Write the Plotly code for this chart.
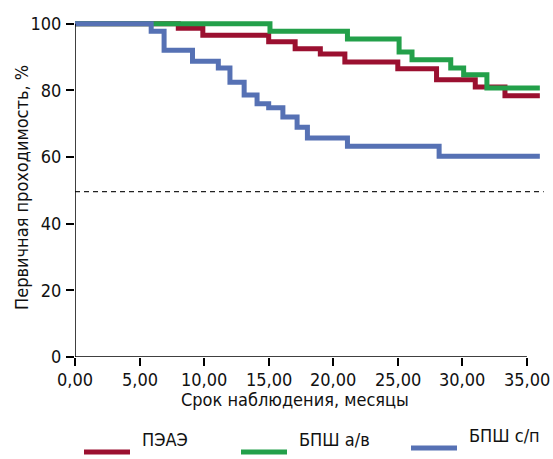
import plotly.graph_objects as go

# Data (step functions: time in months, primary patency in %)
peae_t = [0, 8.0, 9.9, 15.0, 17.05, 19.0, 20.9, 25.0, 28.0, 31.0, 33.3, 36.0]
peae_s = [100, 98.6, 96.5, 94.6, 92.5, 90.9, 88.5, 86.5, 83.2, 81.0, 78.4, 78.4]

bpsh_av_t = [0, 15.1, 21.1, 25.1, 26.1, 29.1, 30.1, 31.9, 36.0]
bpsh_av_s = [100, 97.7, 95.4, 91.5, 89.2, 86.7, 84.7, 80.7, 80.7]

bpsh_sp_t = [0, 5.9, 6.9, 9.1, 11.1, 12.0, 13.1, 14.1, 15.0, 16.1, 17.2, 18.0, 21.1, 28.2, 36.0]
bpsh_sp_s = [100, 97.7, 92.0, 88.7, 86.7, 82.4, 78.6, 76.0, 74.8, 72.0, 68.9, 65.7, 63.2, 60.2, 60.2]

series_names = ["ПЭАЭ", "БПШ а/в", "БПШ с/п"]
series_colors = ["#9b1030", "#23a04a", "#5671b4"]
threshold = 49.6

x_ticks = [0, 5, 10, 15, 20, 25, 30, 35]
x_tick_labels = ["0,00", "5,00", "10,00", "15,00", "20,00", "25,00", "30,00", "35,00"]
y_ticks = [0, 20, 40, 60, 80, 100]

FONT = "Liberation Sans Narrow, DejaVu Sans Condensed, Arial Narrow, sans-serif"

fig = go.Figure()
for t, s, name, col in [(peae_t, peae_s, series_names[0], series_colors[0]),
                        (bpsh_av_t, bpsh_av_s, series_names[1], series_colors[1]),
                        (bpsh_sp_t, bpsh_sp_s, series_names[2], series_colors[2])]:
    fig.add_trace(go.Scatter(x=t, y=s, mode="lines", name=name,
                             line=dict(color=col, width=5, shape="hv"),
                             showlegend=False))

# threshold dashed line
fig.add_trace(go.Scatter(x=[0, 36.3], y=[threshold, threshold], mode="lines",
                         line=dict(color="#222222", width=1.2, dash="5px,4px"),
                         showlegend=False, hoverinfo="skip"))

# axes lines
fig.add_shape(type="line", x0=0, x1=35, y0=0, y1=0, xref="x", yref="y",
              line=dict(color="black", width=1.5))
fig.add_shape(type="line", x0=0, x1=0, y0=0, y1=100, xref="x", yref="y",
              line=dict(color="black", width=1.5))
for xt, lab in zip(x_ticks, x_tick_labels):
    fig.add_annotation(x=xt, y=0, xref="x", yref="y", text=lab,
                       showarrow=False, yshift=-22, font=dict(size=18, color="#111", family=FONT))

fig.update_xaxes(range=[0, 36.4], showline=False, showgrid=False, zeroline=False,
                 tickvals=x_ticks, ticks="outside", ticklen=8, tickwidth=1.5,
                 tickcolor="black", showticklabels=False)
fig.update_yaxes(range=[0, 102], showline=False, showgrid=False, zeroline=False,
                 tickvals=y_ticks, ticks="outside", ticklen=8, tickwidth=1.5,
                 tickcolor="black", ticklabelstandoff=1,
                 tickfont=dict(size=18, color="#111", family=FONT))

# axis titles
fig.add_annotation(x=0.469, y=-0.163, xref="paper", yref="paper", xanchor="center",
                   text="Срок наблюдения, месяцы", showarrow=False,
                   font=dict(size=18, color="#111", family=FONT))
fig.add_annotation(x=-0.115, y=0.5, xref="paper", yref="paper", textangle=-90,
                   xanchor="center", yanchor="middle",
                   text="Первичная проходимость, %", showarrow=False,
                   font=dict(size=18, color="#111", family=FONT))

# legend (manual)
leg = [(84, 130, 140, 452), (241, 287, 297, 452), (411, 457, 467, 448)]
for (x0, x1, tx, yc), name, col in zip(leg, series_names, series_colors):
    px0 = (x0 - 75) / 470
    px1 = (x1 - 75) / 470
    py = (357 - yc) / 340
    fig.add_shape(type="line", xref="paper", yref="paper", x0=px0, x1=px1, y0=py, y1=py,
                  line=dict(color=col, width=5))
    fig.add_annotation(x=(tx - 75) / 470, y=py, xref="paper", yref="paper", xanchor="left",
                       text=name, showarrow=False, font=dict(size=18, color="#111", family=FONT))

fig.update_layout(width=553, height=459, margin=dict(l=75, r=8, t=17, b=102),
                  plot_bgcolor="white", paper_bgcolor="white")
fig.write_html("out.html", config={"displayModeBar": False},
               post_script="document.body.style.margin='0';document.body.style.overflow='hidden';")
